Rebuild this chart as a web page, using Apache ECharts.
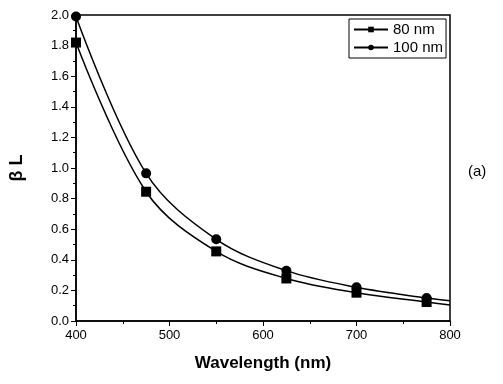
<!DOCTYPE html>
<html>
<head>
<meta charset="utf-8">
<script src="https://cdn.jsdelivr.net/npm/echarts@6/dist/echarts.min.js"></script>
<style>html,body{margin:0;padding:0;background:#fff}#c{width:503px;height:384px}</style>
</head>
<body>
<div id="c"></div>
<script>
var wavelengths = [400, 475, 550, 625, 700, 775];
var beta80 = [1.82, 0.845, 0.455, 0.278, 0.185, 0.124];
var beta100 = [1.99, 0.965, 0.534, 0.329, 0.22, 0.15];
var curveEnd = 800;
var end80 = 0.105;
var end100 = 0.133;
var xTicks = [400, 500, 600, 700, 800];

function build(vals, endVal) {
  var d = wavelengths.map(function (w, i) { return [w, vals[i]]; });
  d.push({ value: [curveEnd, endVal], symbol: 'none' });
  return d;
}

var chart = echarts.init(document.getElementById('c'));
var font = 'Liberation Sans, Arial, sans-serif';
chart.setOption({
  animation: false,
  grid: { left: 70, right: 53, top: 15, bottom: 63, show: true, borderColor: '#000', borderWidth: 1.5 },
  legend: {
    left: 349, top: 19, orient: 'vertical', padding: [3, 3, 3, 4], itemGap: 3,
    borderColor: '#000', borderWidth: 1, backgroundColor: '#fff',
    itemWidth: 34, itemHeight: 7,
    textStyle: { fontFamily: font, fontSize: 15, color: '#000' },
    data: ['80 nm', '100 nm']
  },
  xAxis: {
    type: 'value', min: 400, max: 800, interval: 100,
    name: 'Wavelength (nm)', nameLocation: 'middle', nameGap: 34,
    nameTextStyle: { fontFamily: font, fontSize: 17, fontWeight: 'bold', color: '#000' },
    axisLine: { lineStyle: { color: '#000', width: 1.5 } },
    axisTick: { length: 5, lineStyle: { color: '#000' } },
    minorTick: { show: true, splitNumber: 2, length: 3, lineStyle: { color: '#000' } },
    axisLabel: { fontFamily: font, fontSize: 13, color: '#000', margin: 8,
      formatter: function (v) { return xTicks.indexOf(v) >= 0 ? String(v) : ''; } },
    splitLine: { show: false }
  },
  yAxis: {
    type: 'value', min: 0, max: 2, interval: 0.2,
    name: 'β L', nameLocation: 'middle', nameGap: 50,
    nameTextStyle: { fontFamily: font, fontSize: 18, fontWeight: 'bold', color: '#000' },
    axisLine: { lineStyle: { color: '#000', width: 1.5 } },
    axisTick: { length: 5, lineStyle: { color: '#000' } },
    minorTick: { show: true, splitNumber: 2, length: 3, lineStyle: { color: '#000' } },
    axisLabel: { fontFamily: font, fontSize: 13, color: '#000', margin: 7,
      formatter: function (v) { return v.toFixed(1); } },
    splitLine: { show: false }
  },
  series: [
    { name: '80 nm', type: 'line', smooth: 0.35, symbol: 'rect', symbolSize: 10,
      itemStyle: { color: '#000' }, lineStyle: { color: '#000', width: 1.5 },
      data: build(beta80, end80) },
    { name: '100 nm', type: 'line', smooth: 0.35, symbol: 'circle', symbolSize: 10,
      itemStyle: { color: '#000' }, lineStyle: { color: '#000', width: 1.5 },
      data: build(beta100, end100) }
  ],
  graphic: [
    { type: 'text', left: 468, top: 164, style: { text: '(a)', font: '15px Liberation Sans, Arial, sans-serif', fill: '#000' } }
  ]
});
</script>
</body>
</html>
